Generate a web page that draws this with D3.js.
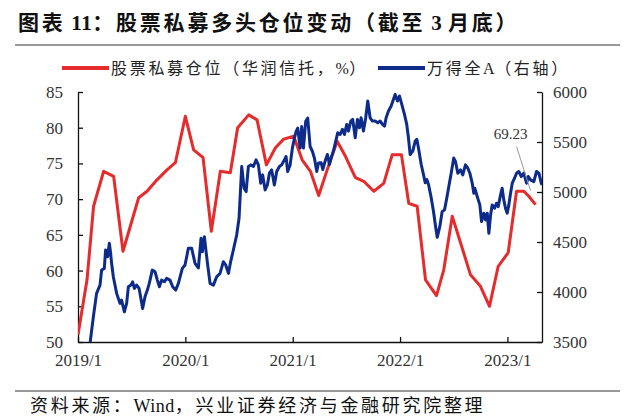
<!DOCTYPE html>
<html>
<head>
<meta charset="utf-8">
<script src="https://cdn.jsdelivr.net/npm/d3@7"></script>
<style>
  body { margin: 0; background: #fff; }
  text { font-family: "Liberation Serif", "Noto Sans CJK SC", serif; }
</style>
</head>
<body>
<div id="chart"></div>
<script>
// 股票私募仓位（华润信托，%）—— 月度，按年份小数记位置
var redYears = [2019.000, 2019.084, 2019.145, 2019.239, 2019.332, 2019.419, 2019.565, 2019.643, 2019.736, 2019.829, 2019.907,
  2020.000, 2020.077, 2020.165, 2020.242, 2020.326, 2020.419, 2020.487, 2020.590, 2020.668, 2020.755, 2020.839, 2020.916,
  2021.009, 2021.088, 2021.165, 2021.242, 2021.321, 2021.414, 2021.491, 2021.584, 2021.662, 2021.755, 2021.848, 2021.926,
  2022.013, 2022.081, 2022.159, 2022.237, 2022.339, 2022.407, 2022.486, 2022.563, 2022.656, 2022.749, 2022.833, 2022.914,
  2023.007, 2023.085, 2023.153, 2023.199, 2023.262];
var redValues = [51.0, 58.7, 69.0, 73.9, 73.2, 62.7, 70.2, 71.1, 72.7, 74.1, 75.1,
  81.6, 76.9, 75.8, 65.5, 73.9, 73.7, 80.0, 81.8, 81.1, 74.8, 77.2, 78.4,
  78.8, 75.5, 73.9, 70.5, 74.1, 78.1, 76.0, 73.0, 72.5, 71.1, 72.2, 76.2,
  76.2, 69.4, 69.0, 58.7, 56.5, 60.1, 67.6, 63.9, 59.4, 57.8, 55.0, 60.6,
  62.5, 71.1, 71.1, 70.4, 69.23];

// 万得全A（右轴）—— 周度
var blueYears = [2019.000, 2019.040, 2019.080, 2019.112, 2019.143, 2019.173, 2019.205, 2019.220, 2019.245, 2019.257,
  2019.276, 2019.292, 2019.304, 2019.313, 2019.329, 2019.360, 2019.391, 2019.406, 2019.432, 2019.453,
  2019.469, 2019.494, 2019.509, 2019.525, 2019.546, 2019.569, 2019.583, 2019.602, 2019.624, 2019.646,
  2019.664, 2019.692, 2019.718, 2019.739, 2019.758, 2019.779, 2019.804, 2019.826, 2019.857, 2019.882,
  2019.910, 2019.935, 2019.972, 2019.997, 2020.028, 2020.059, 2020.090, 2020.121, 2020.146, 2020.158,
  2020.177, 2020.193, 2020.208, 2020.230, 2020.261, 2020.292, 2020.323, 2020.354, 2020.376, 2020.401,
  2020.422, 2020.447, 2020.478, 2020.500, 2020.525, 2020.547, 2020.566, 2020.587, 2020.612, 2020.634,
  2020.659, 2020.680, 2020.702, 2020.720, 2020.743, 2020.764, 2020.783, 2020.804, 2020.829, 2020.851,
  2020.876, 2020.897, 2020.923, 2020.938, 2020.953, 2020.976, 2020.997, 2021.016, 2021.032, 2021.047,
  2021.069, 2021.084, 2021.100, 2021.121, 2021.140, 2021.162, 2021.184, 2021.202, 2021.224, 2021.240,
  2021.265, 2021.280, 2021.302, 2021.323, 2021.342, 2021.358, 2021.379, 2021.401, 2021.419, 2021.442,
  2021.463, 2021.482, 2021.503, 2021.519, 2021.541, 2021.559, 2021.582, 2021.603, 2021.622, 2021.637,
  2021.659, 2021.680, 2021.699, 2021.721, 2021.743, 2021.768, 2021.792, 2021.815, 2021.836, 2021.855,
  2021.870, 2021.892, 2021.917, 2021.938, 2021.954, 2021.976, 2021.994, 2022.016, 2022.041, 2022.062,
  2022.078, 2022.094, 2022.118, 2022.141, 2022.156, 2022.171, 2022.197, 2022.218, 2022.234, 2022.249,
  2022.265, 2022.290, 2022.311, 2022.330, 2022.346, 2022.370, 2022.392, 2022.414, 2022.432, 2022.454,
  2022.476, 2022.500, 2022.516, 2022.538, 2022.563, 2022.584, 2022.609, 2022.631, 2022.650, 2022.672,
  2022.687, 2022.696, 2022.719, 2022.743, 2022.759, 2022.780, 2022.796, 2022.812, 2022.827, 2022.843,
  2022.858, 2022.880, 2022.898, 2022.914, 2022.936, 2022.951, 2022.966, 2022.982, 2022.998, 2023.013,
  2023.029, 2023.045, 2023.066, 2023.085, 2023.106, 2023.129, 2023.153, 2023.178, 2023.194, 2023.215,
  2023.246, 2023.271, 2023.293, 2023.315, 2023.322];
var blueValues = [3330, 3390, 3440, 3485, 3751, 3986, 4069, 4219, 4236, 4420,
  4353, 4487, 4387, 4287, 4153, 3986, 3886, 3919, 3802, 3886,
  4052, 4069, 4102, 4036, 4069, 4036, 3952, 3836, 3952, 4019,
  4086, 4219, 4202, 4119, 4052, 4119, 4102, 4136, 4119, 4052,
  4019, 4086, 4236, 4270, 4437, 4437, 4287, 4240, 4537, 4403,
  4553, 4403, 4270, 4086, 4069, 4153, 4186, 4303, 4270, 4186,
  4303, 4420, 4570, 4737, 5255, 5038, 5004, 5255, 5271, 5255,
  5322, 5271, 5088, 5171, 5021, 5071, 5188, 5221, 5071, 5205,
  5255, 5271, 5322, 5355, 5205, 5271, 5439, 5539, 5606, 5639,
  5439, 5655, 5439, 5706, 5739, 5455, 5405, 5339, 5205, 5290,
  5292, 5225, 5309, 5375, 5275, 5342, 5409, 5509, 5592, 5575,
  5626, 5575, 5676, 5609, 5709, 5726, 5542, 5726, 5642, 5742,
  5609, 5742, 5910, 5742, 5709, 5709, 5692, 5709, 5676, 5659,
  5742, 5810, 5860, 5926, 5976, 5910, 5960, 5876, 5776, 5676,
  5542, 5375, 5409, 5509, 5526, 5442, 5275, 5175, 5092, 5125,
  5075, 4942, 4808, 4660, 4547, 4653, 4804, 4821, 4921, 5054,
  5188, 5339, 5305, 5188, 5221, 5171, 5271, 5238, 5188, 5088,
  4988, 5038, 4954, 4871, 4704, 4788, 4721, 4788, 4587, 4771,
  4871, 4838, 4888, 4854, 4971, 5038, 4921, 4838, 4788, 4871,
  4988, 5088, 5138, 5188, 5205, 5155, 5188, 5088, 5155, 5121,
  5104, 5205, 5188, 5088, 5071];

var xTicks = [2019, 2020, 2021, 2022, 2023];
var leftTicks = [50, 55, 60, 65, 70, 75, 80, 85];
var rightTicks = [3500, 4000, 4500, 5000, 5500, 6000];
var lastLabel = "69.23";

var W = 640, H = 420;
var plot = { left: 78, right: 542, top: 92, bottom: 342 };

var svg = d3.select("#chart").append("svg")
  .attr("width", W)
  .attr("height", H);

// scales
var x = d3.scaleLinear().domain([2019, 2023.322]).range([plot.left, plot.right]);
var yL = d3.scaleLinear().domain([50, 85]).range([plot.bottom, plot.top]);
var yR = d3.scaleLinear().domain([3500, 6000]).range([plot.bottom, plot.top]);

// CJK runs get extra spacing (Song-style look), latin runs stay tight
function spacedText(sel, str, spacing) {
  var runs = str.match(/[\x20-\x7e]+|[^\x20-\x7e]+/g);
  sel.selectAll("tspan").data(runs).enter().append("tspan")
    .attr("letter-spacing", function (r) { return /^[\x20-\x7e]+$/.test(r) ? 0.5 : spacing; })
    .text(function (r) { return r; });
}

// title + rules
svg.append("text")
  .attr("x", 18).attr("y", 30)
  .attr("font-size", 21).attr("font-weight", "bold")
  .attr("fill", "#111")
  .call(spacedText, "图表 11：股票私募多头仓位变动（截至 3 月底）", 2.8);
svg.append("line")
  .attr("x1", 15).attr("x2", 620).attr("y1", 45).attr("y2", 45)
  .attr("stroke", "#333").attr("stroke-width", 1.2);
svg.append("line")
  .attr("x1", 15).attr("x2", 620).attr("y1", 391).attr("y2", 391)
  .attr("stroke", "#333").attr("stroke-width", 1.2);
svg.append("text")
  .attr("x", 30).attr("y", 412)
  .attr("font-size", 18)
  .attr("fill", "#111")
  .call(spacedText, "资料来源：Wind，兴业证券经济与金融研究院整理", 2.7);

// legend
var legend = [
  { label: "股票私募仓位（华润信托，%）", color: "#e52b2b", x: 62 },
  { label: "万得全A（右轴）", color: "#0d2b8a", x: 378 }
];
var lg = svg.selectAll(".lg").data(legend).enter().append("g")
  .attr("class", "lg")
  .attr("transform", function (d) { return "translate(" + d.x + ",68)"; });
lg.append("line")
  .attr("x1", 0).attr("x2", 47)
  .attr("stroke", function (d) { return d.color; })
  .attr("stroke-width", 4);
lg.append("text")
  .attr("x", 49).attr("dy", "0.35em")
  .attr("font-size", 16)
  .attr("fill", "#222")
  .each(function (d) { d3.select(this).call(spacedText, d.label, 2.7); });

// axes
var axisColor = "#111";
function styleAxis(g) {
  g.selectAll("path, line").attr("stroke", axisColor).attr("stroke-width", 1.3);
  g.selectAll("text").attr("fill", "#333").attr("font-size", 17)
    .attr("font-family", "Liberation Serif, serif");
}

svg.append("g")
  .attr("transform", "translate(0," + plot.bottom + ")")
  .call(d3.axisBottom(x).tickValues(xTicks)
    .tickFormat(function (d) { return d + "/1"; })
    .tickSizeInner(-5).tickSizeOuter(0).tickPadding(12))
  .call(styleAxis);

svg.append("g")
  .attr("transform", "translate(" + plot.left + ",0)")
  .call(d3.axisLeft(yL).tickValues(leftTicks)
    .tickSizeInner(-5).tickSizeOuter(0).tickPadding(15))
  .call(styleAxis);

svg.append("g")
  .attr("transform", "translate(" + plot.right + ",0)")
  .call(d3.axisRight(yR).tickValues(rightTicks)
    .tickFormat(d3.format("d"))
    .tickSizeInner(-5).tickSizeOuter(0).tickPadding(11))
  .call(styleAxis);

// clip to the plot frame
svg.append("clipPath").attr("id", "clip")
  .append("rect")
  .attr("x", plot.left).attr("y", plot.top - 5)
  .attr("width", plot.right - plot.left).attr("height", plot.bottom - plot.top + 5);

var redData = redYears.map(function (t, i) { return { t: t, v: redValues[i] }; });
var blueData = blueYears.map(function (t, i) { return { t: t, v: blueValues[i] }; });

var redLine = d3.line()
  .x(function (d) { return x(d.t); })
  .y(function (d) { return yL(d.v); });
var blueLine = d3.line()
  .x(function (d) { return x(d.t); })
  .y(function (d) { return yR(d.v); });

var lines = svg.append("g").attr("clip-path", "url(#clip)");
lines.append("path").datum(redData)
  .attr("d", redLine)
  .attr("fill", "none").attr("stroke", "#e52b2b")
  .attr("stroke-width", 3).attr("stroke-linejoin", "round");
lines.append("path").datum(blueData)
  .attr("d", blueLine)
  .attr("fill", "none").attr("stroke", "#0d2b8a")
  .attr("stroke-width", 3).attr("stroke-linejoin", "round");

// last value annotation
var last = redData[redData.length - 1];
var lx = x(last.t), ly = yL(last.v);
svg.append("line")
  .attr("x1", lx - 19).attr("y1", ly - 58)
  .attr("x2", lx - 5).attr("y2", ly - 14)
  .attr("stroke", "#999").attr("stroke-width", 1);
svg.append("text")
  .attr("x", lx - 25).attr("y", ly - 66)
  .attr("text-anchor", "middle")
  .attr("font-size", 15).attr("fill", "#333")
  .text(lastLabel);
</script>
</body>
</html>
